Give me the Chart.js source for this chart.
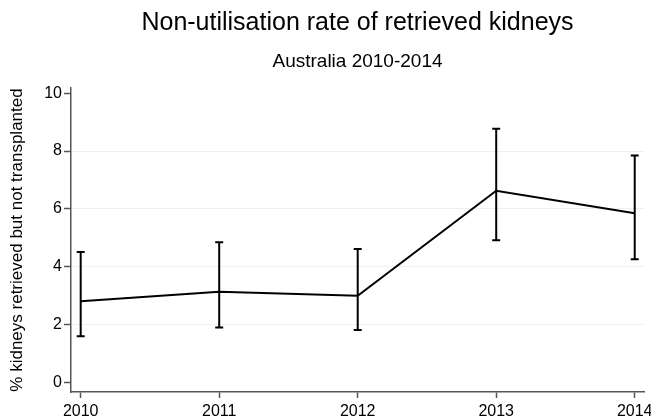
<!DOCTYPE html>
<html><head><meta charset="utf-8">
<script src="https://cdn.jsdelivr.net/npm/chart.js@4"></script>
<style>html,body{margin:0;padding:0;background:#fff}#wrap{width:651px;height:418px}</style>
</head><body><div id="wrap"><canvas id="c" width="651" height="418"></canvas></div>
<script>
const titleText = "Non-utilisation rate of retrieved kidneys";
const subtitleText = "Australia 2010-2014";
const yAxisTitle = "% kidneys retrieved but not transplanted";
const years = [2010, 2011, 2012, 2013, 2014];
const rate = [2.81, 3.14, 3.00, 6.63, 5.85];
const lower = [1.60, 1.90, 1.82, 4.92, 4.26];
const upper = [4.51, 4.85, 4.62, 8.77, 7.85];
const yTicks = [0, 2, 4, 6, 8, 10];

const FONT = '"Liberation Sans", Arial, Helvetica, sans-serif';
const AXIS = '#555555';

const titlesPlugin = {
  id: 'titles',
  afterDraw(chart) {
    const ctx = chart.ctx, a = chart.chartArea;
    const cx = (a.left + a.right) / 2;
    ctx.save();
    ctx.fillStyle = '#000';
    ctx.textAlign = 'center';
    ctx.textBaseline = 'alphabetic';
    ctx.font = '25px ' + FONT;
    ctx.fillText(titleText, cx, 30);
    ctx.font = '19px ' + FONT;
    ctx.fillText(subtitleText, cx, 67);
    ctx.restore();
  }
};

const errorBars = {
  id: 'errorBars',
  afterDatasetsDraw(chart) {
    const ctx = chart.ctx, xs = chart.scales.x, ys = chart.scales.y;
    ctx.save();
    ctx.strokeStyle = '#000';
    ctx.lineWidth = 2;
    ctx.lineCap = 'butt';
    for (let i = 0; i < years.length; i++) {
      const px = xs.getPixelForValue(years[i]);
      const t = ys.getPixelForValue(upper[i]);
      const b = ys.getPixelForValue(lower[i]);
      ctx.beginPath();
      ctx.moveTo(px, t); ctx.lineTo(px, b);
      ctx.moveTo(px - 4, t); ctx.lineTo(px + 4, t);
      ctx.moveTo(px - 4, b); ctx.lineTo(px + 4, b);
      ctx.stroke();
    }
    ctx.restore();
  }
};

new Chart(document.getElementById('c'), {
  type: 'line',
  data: {
    datasets: [{
      data: years.map((y, i) => ({ x: y, y: rate[i] })),
      borderColor: '#000',
      borderWidth: 2,
      pointRadius: 0,
      tension: 0,
      fill: false
    }]
  },
  options: {
    responsive: false,
    animation: false,
    devicePixelRatio: 1,
    layout: { padding: { top: 88, right: 7, bottom: 0, left: 0 } },
    plugins: { legend: { display: false }, tooltip: { enabled: false }, title: { display: false } },
    scales: {
      x: {
        type: 'linear',
        min: 2009.93,
        max: 2014.067,
        afterBuildTicks(s) { s.ticks = years.map(v => ({ value: v })); },
        afterFit(s) { s.height = 26; s.paddingLeft = 0; s.paddingRight = 0; },
        ticks: { color: '#000', font: { family: FONT, size: 16 }, padding: 4, maxRotation: 0, autoSkip: false, callback: v => String(v) },
        grid: { drawOnChartArea: false, drawTicks: true, tickLength: 6, tickColor: AXIS, tickWidth: 1.5 },
        border: { display: true, color: AXIS, width: 1.5 }
      },
      y: {
        type: 'linear',
        min: -0.325,
        max: 10.18,
        afterBuildTicks(s) { s.ticks = yTicks.map(v => ({ value: v })); },
        afterFit(s) { s.width = 71; s.paddingTop = 0; s.paddingBottom = 0; },
        ticks: { color: '#000', font: { family: FONT, size: 16 }, padding: 2, autoSkip: false, callback: v => String(v) },
        grid: {
          color: c => (c.tick && (c.tick.value === 0 || c.tick.value === 10)) ? 'rgba(0,0,0,0)' : '#eaf2f3',
          lineWidth: 1, drawTicks: true, tickLength: 7, tickColor: AXIS, tickWidth: 1.5
        },
        border: { display: true, color: AXIS, width: 1.5 },
        title: { display: true, text: yAxisTitle, color: '#000', font: { family: FONT, size: 17 }, padding: { top: 7, bottom: 0 } }
      }
    }
  },
  plugins: [titlesPlugin, errorBars]
});
</script>
</body></html>
